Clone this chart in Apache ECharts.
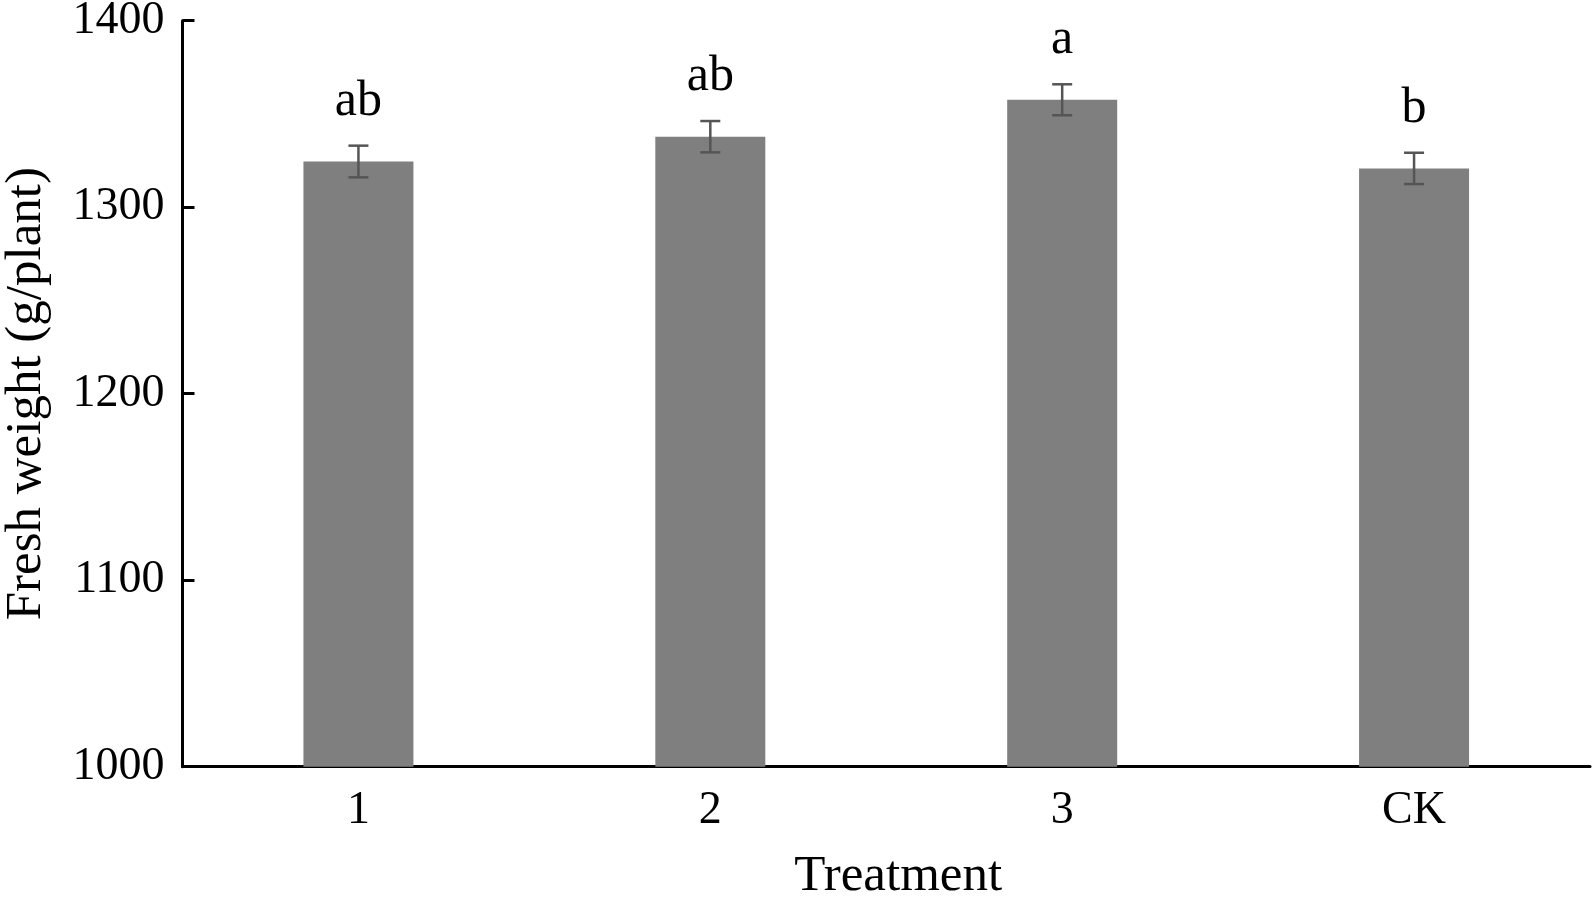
<!DOCTYPE html>
<html>
<head>
<meta charset="utf-8">
<script src="https://cdn.jsdelivr.net/npm/echarts@6/dist/echarts.min.js"></script>
<style>
html,body{margin:0;padding:0;background:#fff;}
#chart{width:1593px;height:898px;}
</style>
</head>
<body>
<div id="chart"></div>
<script>
const categories = ['1', '2', '3', 'CK'];
const means = [1324.5, 1337.8, 1357.6, 1320.8];
const errors = [8.5, 8.4, 8.3, 8.4];
const letters = ['ab', 'ab', 'a', 'b'];
const yTicks = [1000, 1100, 1200, 1300, 1400];

const FONT = '"Liberation Serif", "Times New Roman", serif';
const chart = echarts.init(document.getElementById('chart'), null, {renderer: 'canvas'});

const errData = categories.map((c, i) => [i, means[i], errors[i]]);

const option = {
  backgroundColor: '#ffffff',
  animation: false,
  grid: {left: 182.5, right: 3, top: 20.7, bottom: 131.3, containLabel: false, outerBoundsMode: 'none'},
  xAxis: {
    type: 'category',
    data: categories,
    boundaryGap: true,
    axisLine: {lineStyle: {color: '#000', width: 3}},
    axisTick: {show: false},
    axisLabel: {color: '#000', fontFamily: FONT, fontSize: 46, margin: 21},
    name: 'Treatment',
    nameLocation: 'middle',
    nameGap: 84,
    nameTextStyle: {color: '#000', fontFamily: FONT, fontSize: 51, padding: [0, 0, 0, 24]}
  },
  yAxis: {
    type: 'value',
    min: yTicks[0],
    max: yTicks[yTicks.length - 1],
    interval: 100,
    axisLine: {show: true, lineStyle: {color: '#000', width: 3}},
    axisTick: {show: true, inside: true, length: 12, lineStyle: {color: '#000', width: 3}},
    axisLabel: {color: '#000', fontFamily: FONT, fontSize: 46, margin: 18,
      formatter: function (v) { return String(v); }},
    splitLine: {show: false},
    name: 'Fresh weight (g/plant)',
    nameLocation: 'middle',
    nameGap: 130,
    nameTextStyle: {color: '#000', fontFamily: FONT, fontSize: 51}
  },
  series: [
    {
      type: 'bar',
      data: means,
      barWidth: 110,
      itemStyle: {color: '#7f7f7f'},
      z: 2
    },
    {
      type: 'custom',
      data: errData,
      z: 3,
      renderItem: function (params, api) {
        const i = api.value(0);
        const m = api.value(1);
        const e = api.value(2);
        const hi = api.coord([i, m + e]);
        const lo = api.coord([i, m - e]);
        const x = hi[0];
        const cap = 10;
        const style = {stroke: '#555555', lineWidth: 2.5};
        return {
          type: 'group',
          children: [
            {type: 'line', shape: {x1: x, y1: hi[1], x2: x, y2: lo[1]}, style: style},
            {type: 'line', shape: {x1: x - cap, y1: hi[1], x2: x + cap, y2: hi[1]}, style: style},
            {type: 'line', shape: {x1: x - cap, y1: lo[1], x2: x + cap, y2: lo[1]}, style: style},
            {type: 'text', style: {
              text: letters[params.dataIndex],
              x: x, y: hi[1] - 19,
              textAlign: 'center', textVerticalAlign: 'bottom',
              fill: '#000', font: '50px ' + FONT
            }}
          ]
        };
      }
    }
  ]
};
chart.setOption(option);
</script>
</body>
</html>
